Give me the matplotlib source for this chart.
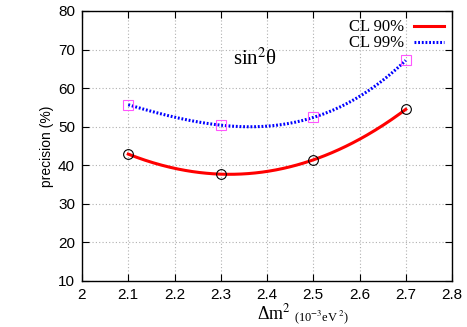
import numpy as np
import matplotlib
matplotlib.use('Agg')
import matplotlib.pyplot as plt

# data
dm2 = [2.1, 2.3, 2.5, 2.7]
cl90 = [42.9, 37.7, 41.4, 54.5]
cl99 = [55.7, 50.4, 52.4, 67.2]
xticks = [2.0, 2.1, 2.2, 2.3, 2.4, 2.5, 2.6, 2.7, 2.8]
yticks = [10, 20, 30, 40, 50, 60, 70, 80]

plt.rcParams['font.family'] = ['Liberation Sans', 'DejaVu Sans']
plt.rcParams['mathtext.fontset'] = 'stix'


def smooth(x, y, n=200):
    # cubic through the points (like gnuplot csplines)
    c = np.polyfit(x, y, len(x) - 1)
    xs = np.linspace(min(x), max(x), n)
    return xs, np.polyval(c, xs)


fig = plt.figure(figsize=(4.67, 3.27), dpi=100)
ax = fig.add_axes([82 / 467, 1 - 281 / 327, 370 / 467, 270 / 327])

xs, ys = smooth(dm2, cl90)
ax.plot(xs, ys, color='red', lw=2.2, label='CL 90%')
xs, ys = smooth(dm2, cl99)
ax.plot(xs, ys, color='blue', lw=2.2, ls=(0, (0.6, 0.6)), label='CL 99%')

ax.plot(dm2, cl90, ls='none', marker='o', ms=7, mfc='none', mec='black', mew=0.8)
ax.plot(dm2, cl99, ls='none', marker='s', ms=7, mfc='none', mec='#ff55ff', mew=0.8)

ax.set_xlim(2.0, 2.8)
ax.set_ylim(10, 80)
ax.set_xticks(xticks)
ax.set_yticks(yticks)
ax.set_xticklabels(['2'] + [f'{t:.1f}' for t in xticks[1:]])
ax.tick_params(direction='in', top=True, right=True, labelsize=11, length=5, pad=5)
ax.grid(True, color='#b0b0b0', ls=(0, (1, 2)), lw=0.8)
for s in ax.spines.values():
    s.set_linewidth(1.0)

ax.set_ylabel('precision (%)', fontsize=10, labelpad=3)

# x label in two sizes, second part placed right after the first
t1 = fig.text(257 / 467, 1 - 319 / 327, 'Δm$^2$', fontsize=13,
              family='Liberation Serif', va='baseline', ha='left')
ax.annotate('(10$^{-3}$eV$^{\\ 2}$)', xy=(1, 327 - 321),
            xycoords=(t1, 'figure pixels'),
            xytext=(2, 0), textcoords='offset points',
            fontsize=9, family='Liberation Serif', va='baseline', ha='left',
            annotation_clip=False)

ax.text(255 / 467, 1 - 59 / 327, 'sin$^2$θ', transform=fig.transFigure,
        fontsize=15, family='Liberation Serif', ha='center', va='center')

leg = ax.legend(loc='upper right', frameon=False,
                prop={'family': 'Liberation Serif', 'size': 12},
                markerfirst=False, handlelength=1.8, labelspacing=0.0,
                borderaxespad=0.1, handletextpad=0.6)

fig.savefig('out.png', dpi=100)
